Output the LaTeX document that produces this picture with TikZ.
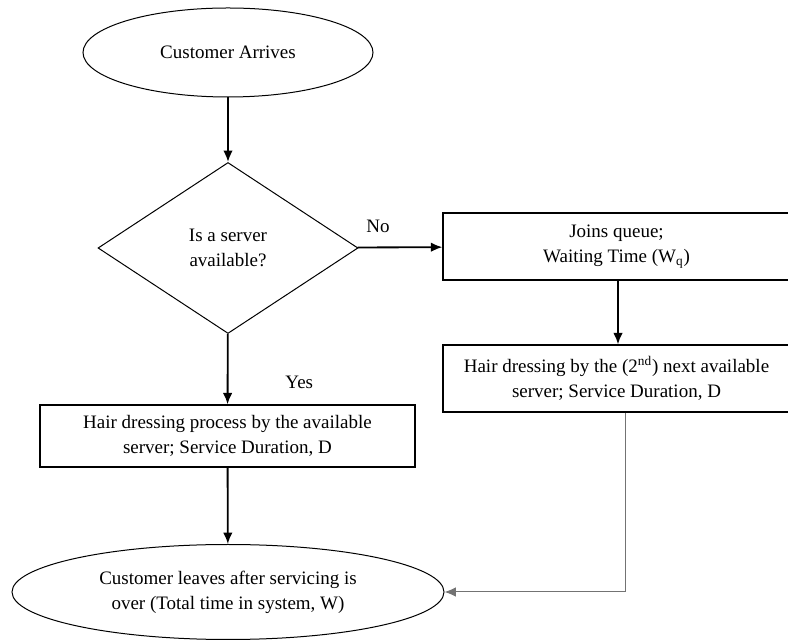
\documentclass[tikz,border=0pt]{standalone}
\usepackage{fontspec}
\setmainfont{Liberation Serif}
\usetikzlibrary{
  arrows.meta,
  shapes.geometric,
}
\tikzset{
  >={Latex[width=2mm,length=2.4mm]},
  startstop/.style={ellipse, draw, line width=0.6pt, inner sep=0pt, align=center},
  decision/.style={diamond, draw, line width=0.6pt, inner sep=0pt, align=center,
    minimum width=156pt, minimum height=102.6pt},
  process/.style={rectangle, draw, line width=0.8pt, inner sep=0pt, align=center},
  flow/.style={->, line width=1.1pt},
}

\begin{document}
\begin{tikzpicture}[x=0.6pt, y=-0.6pt, font=\fontsize{11.4}{15}\selectfont]
    \useasboundingbox (0,0) rectangle (788,642);

    % left column
    \node[startstop, minimum width=174pt, minimum height=53.4pt] (arrive) at (228,52.5)
      {Customer Arrives};
    \node[decision] (avail) at (228,248) {Is a server\\available?};
    \node[process, minimum width=225pt, minimum height=37.2pt] (serve) at (227.5,436)
      {Hair dressing process by the available\\server; Service Duration, D};
    \node[startstop, minimum width=259.2pt, minimum height=57pt] (leave) at (228,592)
      {Customer leaves after servicing is\\over (Total time in system, W)};

    % right column (runs off the page edge)
    \node[process, minimum width=208.2pt, minimum height=40.2pt] (queue) at (616.5,246.5)
      {Joins queue;\\Waiting Time (W\textsubscript{q})};
    \node[process, minimum width=208.2pt, minimum height=40.2pt] (second) at (616.5,378.5)
      {Hair dressing by the (2\textsuperscript{nd}) next available\\server; Service Duration, D};

    % connectors
    \draw[flow] (arrive) -- (avail);
    \draw[flow] (avail) -- node[pos=0.24, above=5pt] {No} (queue);
    \draw[flow] (avail) -- node[pos=0.69, xshift=43pt] {Yes} (serve);
    \draw[flow] (queue.south -| 618,0) -- (second.north -| 618,0);
    \draw[flow] (serve) -- (leave);

    \coordinate (turn) at (625,592);
    \draw[->, draw=black!55, line width=0.6pt] (second.south -| turn) -- (turn) -- (leave.east);
\end{tikzpicture}
\end{document}
